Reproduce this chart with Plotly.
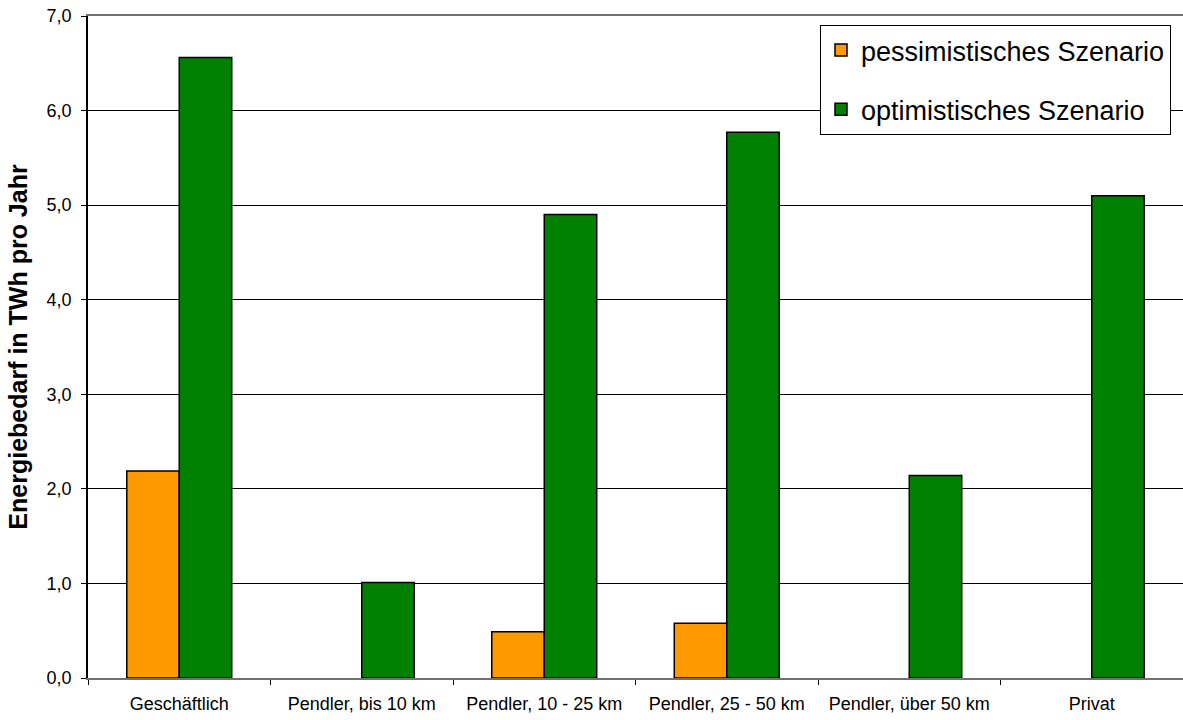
import plotly.graph_objects as go

categories = ["Geschäftlich", "Pendler, bis 10 km", "Pendler, 10 - 25 km",
              "Pendler, 25 - 50 km", "Pendler, über 50 km", "Privat"]
pessimistic = [2.19, None, 0.49, 0.58, None, None]
optimistic = [6.56, 1.01, 4.90, 5.77, 2.14, 5.10]
series_names = ["pessimistisches Szenario", "optimistisches Szenario"]
y_title = "Energiebedarf in TWh pro Jahr"
y_ticks = [0, 1, 2, 3, 4, 5, 6, 7]

FONT = "Arial, Liberation Sans, sans-serif"

fig = go.Figure()
fig.add_trace(go.Bar(
    x=categories, y=pessimistic, name=series_names[0],
    marker=dict(color="#FF9900", line=dict(color="#000000", width=1.5)),
    legendgroup="a",
))
fig.add_trace(go.Bar(
    x=categories, y=optimistic, name=series_names[1],
    marker=dict(color="#008000", line=dict(color="#000000", width=1.5)),
    legendgroup="b",
))

L, T, B = 88, 16, 42
W, H = 1183, 720
pw, ph = W - L, H - T - B

fig.update_layout(
    width=W, height=H,
    margin=dict(l=L, r=0, t=T, b=B, autoexpand=False),
    paper_bgcolor="white", plot_bgcolor="white",
    barmode="group", bargap=0.425, bargroupgap=0,
    separators=",.",
    font=dict(family=FONT, color="#000000"),
    showlegend=True,
    legend=dict(
        x=(820 - L) / pw, y=(H - B - 25) / ph,
        xanchor="left", yanchor="top",
        bgcolor="white", bordercolor="#000000", borderwidth=1,
        font=dict(family=FONT, size=27, color="#000000"),
        tracegroupgap=21, traceorder="grouped",
        itemwidth=30,
    ),
    xaxis=dict(
        type="category", tickson="boundaries", ticks="outside", ticklen=5,
        tickcolor="#000000", showline=True, linecolor="#707070", linewidth=2,
        mirror=True, showgrid=False, tickangle=0, automargin=False,
        ticklabelstandoff=8,
        tickfont=dict(family=FONT, size=18, color="#000000"),
    ),
    yaxis=dict(
        range=[0, 7], tickvals=y_ticks, tickformat=".1f",
        ticks="outside", ticklen=5, tickcolor="#000000",
        showline=True, linecolor="#000000", linewidth=1.5,
        showgrid=True, gridcolor="#000000", gridwidth=1,
        zeroline=False, automargin=False, ticklabelstandoff=6,
        tickfont=dict(family=FONT, size=18, color="#000000"),
        title=dict(text="<b>" + y_title + "</b>", standoff=12,
                   font=dict(family=FONT, size=25, color="#000000")),
    ),
)

fig.write_html("out.html")
